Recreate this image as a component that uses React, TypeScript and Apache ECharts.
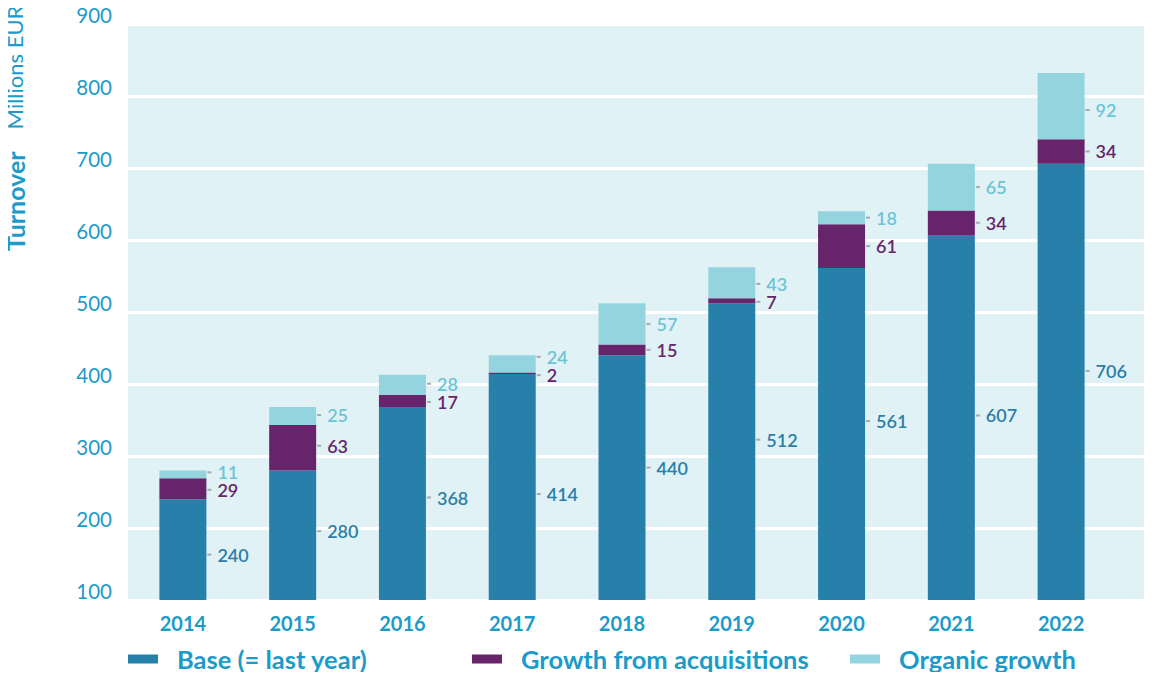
import React, { useEffect, useRef } from "react";
import * as echarts from "echarts";

const years = ["2014", "2015", "2016", "2017", "2018", "2019", "2020", "2021", "2022"];
const baseValues = [240, 280, 368, 414, 440, 512, 561, 607, 706];
const acquisitionValues = [29, 63, 17, 2, 15, 7, 61, 34, 34];
const organicValues = [11, 25, 28, 24, 57, 43, 18, 65, 92];
const yTicks = [100, 900, 100]; // min, max, interval

// vertical label nudges (px) to mimic the reference's hand-placed value labels
const baseLabelNudge = [5, -4, -6, 7, -10, -12, -13, -2, -11];
const acqLabelNudge = [1, -2, 1, 2, 0, 1, 0, 0, 0];
const organicLabelNudge = [-2, -1, -1, -7, 0, 1, 0, 0, 4];

const BLUE_TEXT = "#1c9bc9";
const FONT = "Lato, 'Open Sans', sans-serif";

export default function App() {
  const ref = useRef<HTMLDivElement>(null);
  useEffect(() => {
    if (!ref.current) return;
    const chart = echarts.init(ref.current, undefined, { renderer: "svg" });
    const [yMin, yMax, yInt] = yTicks;
    const mkLabel = (color: string) => ({
      show: true,
      position: "right",
      distance: 1,
      formatter: "{d| }{v|{c}}",
      rich: {
        d: { width: 4, height: 2, backgroundColor: "#a3abae", fontSize: 2, lineHeight: 2 },
        v: { color, fontSize: 18, fontWeight: 600, fontFamily: FONT, padding: [0, 0, 0, 6], lineHeight: 14 },
      },
    });
    const withNudge = (vals: number[], nudge: number[]) =>
      vals.map((v, i) => ({ value: v, label: { offset: [0, nudge[i]] } }));
    const legendCommon = {
      top: 646,
      padding: 0,
      itemWidth: 30,
      itemHeight: 9,
      icon: "rect",
      textStyle: { color: BLUE_TEXT, fontSize: 25.5, fontWeight: "bold", fontFamily: FONT, padding: [0, 0, 0, 14] },
    };
    chart.setOption({
      animation: false,
      textStyle: { fontFamily: FONT },
      grid: [
        { left: 128, right: 0, top: 24, bottom: 80, show: true, backgroundColor: "#e1f2f6", borderWidth: 0 },
        { left: 128, right: 36, top: 24, bottom: 80 },
      ],
      legend: [
        { ...legendCommon, left: 128, data: ["Base (= last year)"] },
        { ...legendCommon, left: 472, data: ["Growth from acquisitions"] },
        { ...legendCommon, left: 850, data: ["Organic growth"] },
      ],
      xAxis: [
        { gridIndex: 0, type: "value", show: false, min: 0, max: 1 },
        {
          gridIndex: 1,
          type: "category",
          data: years,
          axisLine: { show: false },
          axisTick: { show: false },
          axisLabel: { color: BLUE_TEXT, fontSize: 20, fontWeight: "bold", margin: 13, fontFamily: FONT },
        },
      ],
      yAxis: [
        {
          gridIndex: 0,
          type: "value",
          min: yMin,
          max: yMax,
          interval: yInt,
          axisLine: { show: false },
          axisTick: { show: false },
          splitLine: { show: true, lineStyle: { color: "#ffffff", width: 3 } },
          axisLabel: {
            color: BLUE_TEXT,
            fontSize: 20.5,
            margin: 16,
            fontFamily: FONT,
            verticalAlign: "bottom",
            lineHeight: 18,
          },
        },
        { gridIndex: 1, type: "value", min: yMin, max: yMax, interval: yInt, show: false, splitLine: { show: false } },
      ],
      series: [
        {
          name: "Base (= last year)",
          type: "bar",
          stack: "t",
          xAxisIndex: 1,
          yAxisIndex: 1,
          barWidth: 47,
          data: withNudge(baseValues, baseLabelNudge),
          itemStyle: { color: "#2680aa" },
          label: mkLabel("#2a7ea8"),
        },
        {
          name: "Growth from acquisitions",
          type: "bar",
          stack: "t",
          xAxisIndex: 1,
          yAxisIndex: 1,
          barWidth: 47,
          data: withNudge(acquisitionValues, acqLabelNudge),
          itemStyle: { color: "#68246b" },
          label: mkLabel("#68246b"),
        },
        {
          name: "Organic growth",
          type: "bar",
          stack: "t",
          xAxisIndex: 1,
          yAxisIndex: 1,
          barWidth: 47,
          data: withNudge(organicValues, organicLabelNudge),
          itemStyle: { color: "#93d4df" },
          label: mkLabel("#6cc4d6"),
        },
      ],
      graphic: [
        {
          type: "text",
          x: 2,
          y: 251,
          rotation: Math.PI / 2,
          style: {
            text: "{b|Turnover}{g| }{r|Millions EUR}",
            verticalAlign: "top",
            align: "left",
            rich: {
              b: { fontSize: 25, fontWeight: "bold", fill: BLUE_TEXT, fontFamily: FONT },
              g: { width: 22, fontSize: 20 },
              r: { fontSize: 22, fill: BLUE_TEXT, fontFamily: FONT },
            },
          },
        },
      ],
    });
    return () => chart.dispose();
  }, []);
  return <div ref={ref} style={{ width: 1152, height: 680, margin: -8 }} />;
}
